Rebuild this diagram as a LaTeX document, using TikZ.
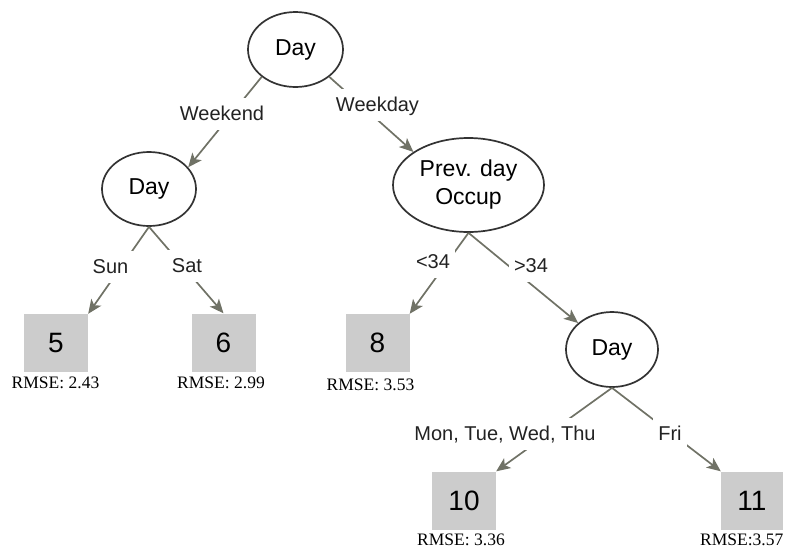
\documentclass[tikz,border=0pt]{standalone}
\usepackage{fontspec}
\setmainfont{Liberation Serif}
\setsansfont{Liberation Sans}
\usetikzlibrary{arrows.meta,shapes.geometric}
\definecolor{edgec}{RGB}{112,114,102}
\definecolor{boxc}{RGB}{204,204,204}
\definecolor{txtc}{RGB}{34,34,34}
\definecolor{ellc}{RGB}{51,51,51}
\begin{document}
\begin{tikzpicture}[x=1pt,y=-1pt,
  split/.style={ellipse, draw=ellc, line width=1.7pt, fill=white, inner sep=0pt,
    font=\sffamily\fontsize{23}{28}\selectfont, align=center},
  leaf/.style={rectangle, fill=boxc, draw=none, minimum width=64pt, minimum height=58pt,
    inner sep=0pt, font=\sffamily\fontsize{28}{30}\selectfont},
  elabel/.style={fill=white, inner xsep=5pt, inner ysep=6pt, text height=16pt, text depth=4pt,
    font=\sffamily\fontsize{20}{24}\selectfont, text=txtc},
  rmse/.style={anchor=base, font=\fontsize{17.5}{20}\selectfont, text=black, inner sep=0pt},
  conn/.style={draw=edgec, line width=1.7pt},
  arr/.style={conn, -{Stealth[length=14pt,width=12pt,inset=3.5pt]}}
]
\useasboundingbox (0,0) rectangle (790,550);
\clip (0,0) rectangle (790,550);

% split nodes
\node[split, minimum width=95pt, minimum height=75pt] (root) at (295.5,49.5) {Day};
\node[split, minimum width=94pt, minimum height=74pt] (dayL) at (149,189) {Day};
\node[split, minimum width=151pt, minimum height=94pt] (prev) at (468.5,185) {Prev. day\\Occup};
\node[split, minimum width=92pt, minimum height=75pt] (dayR) at (612,349.5) {Day};

% leaves
\node[leaf] (l5) at (56,343) {5};
\node[leaf] (l6) at (223.5,342.5) {6};
\node[leaf] (l8) at (377.5,343) {8};
\node[leaf] (l10) at (464,500.5) {10};
\node[leaf, minimum width=62pt] (l11) at (752,500.5) {11};

% connectors
\draw[arr] (root.219) -- (dayL.29);
\draw[arr] (root.321) -- (prev.149);
\draw[arr] (dayL.south) -- (l5.north east);
\draw[arr] (dayL.south) -- (l6.north);
\draw[arr] (prev.south) -- (l8.north east);
\draw[arr] (prev.south) -- (dayR.142);
\draw[arr] (dayR.south) -- (l10.north east);
\draw[arr] (dayR.south) -- (l11.north west);

% edge labels
\node[elabel] (tWeekend) at (222,114) {Weekend};
\node[elabel] (tWeekday) at (377.5,105) {Weekday};
\node[elabel] (tSun) at (110.5,267) {Sun};
\node[elabel] (tSat) at (187,266) {Sat};
\node[elabel] (tLt) at (433,262) {<34};
\node[elabel] (tGt) at (531,266) {>34};
\node[elabel] (tMon) at (505,434) {Mon, Tue, Wed, Thu};
\node[elabel] (tFri) at (670,434) {Fri};

% RMSE texts
\node[rmse] (r5) at (55.5,388.5) {RMSE: 2.43};
\node[rmse] (r6) at (221,388.5) {RMSE: 2.99};
\node[rmse] (r8) at (370.5,390) {RMSE: 3.53};
\node[rmse] (r10) at (461,545) {RMSE: 3.36};
\node[rmse, anchor=base west] (r11) at (700,545) {RMSE:3.57};
\end{tikzpicture}
\end{document}
